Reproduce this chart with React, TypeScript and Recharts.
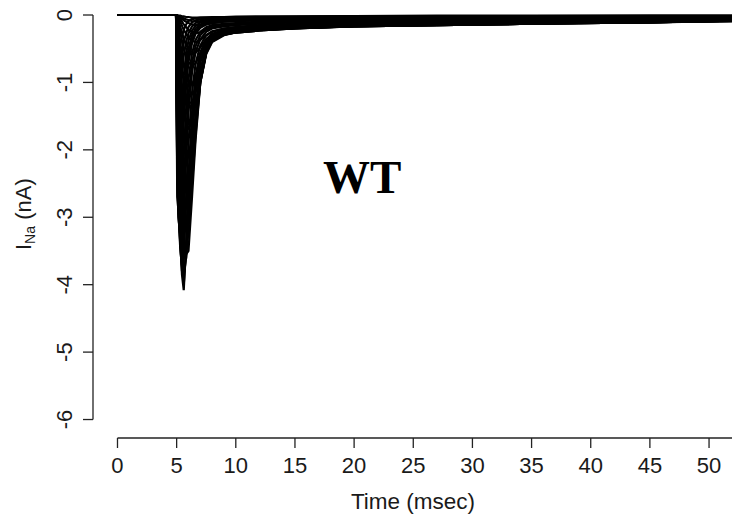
import { LineChart, Line, XAxis, YAxis, ReferenceLine } from "recharts"

// sample times (msec)
const TIME = [0, 4.95, 5.05, 5.15, 5.3, 5.45, 5.6, 5.8, 6.0, 6.3, 6.6, 7.0, 7.5, 8.0, 9.0, 10, 12, 15, 20, 27, 35, 45, 52]

// sodium current traces (nA), one per voltage step
const TRACES: number[][] = [
  [0, 0, -0.45, -0.55, -0.45, -0.32, -0.22, -0.14, -0.09, -0.06, -0.05, -0.04, -0.035, -0.03, -0.03, -0.025, -0.02, -0.02, -0.015, -0.01, -0.01, -0.01, -0.01],
  [0, 0, -0.8, -1.0, -0.8, -0.6, -0.4, -0.27, -0.18, -0.11, -0.08, -0.065, -0.05, -0.045, -0.04, -0.035, -0.03, -0.03, -0.02, -0.02, -0.015, -0.015, -0.015],
  [0, 0, -1.1, -1.4, -1.15, -0.85, -0.6, -0.4, -0.27, -0.17, -0.12, -0.09, -0.07, -0.06, -0.05, -0.05, -0.04, -0.04, -0.03, -0.03, -0.02, -0.02, -0.02],
  [0, 0, -1.45, -1.85, -1.65, -1.25, -0.9, -0.58, -0.38, -0.23, -0.16, -0.11, -0.085, -0.075, -0.065, -0.06, -0.05, -0.045, -0.04, -0.035, -0.03, -0.025, -0.025],
  [0, 0, -1.8, -2.3, -2.1, -1.6, -1.15, -0.75, -0.5, -0.3, -0.2, -0.14, -0.1, -0.09, -0.08, -0.07, -0.06, -0.05, -0.045, -0.04, -0.035, -0.03, -0.03],
  [0, 0, -2.3, -2.65, -2.45, -1.9, -1.4, -0.9, -0.6, -0.36, -0.24, -0.16, -0.12, -0.1, -0.09, -0.08, -0.07, -0.06, -0.05, -0.045, -0.04, -0.035, -0.03],
  [0, 0, -2.7, -2.9, -2.75, -2.2, -1.6, -1.05, -0.7, -0.42, -0.28, -0.19, -0.14, -0.12, -0.1, -0.09, -0.08, -0.07, -0.06, -0.05, -0.045, -0.04, -0.035],
  [0, 0, -2.4, -3.0, -3.25, -2.8, -2.1, -1.4, -0.95, -0.57, -0.37, -0.25, -0.18, -0.15, -0.13, -0.12, -0.1, -0.09, -0.08, -0.07, -0.06, -0.05, -0.045],
  [0, 0, -2.25, -2.95, -3.35, -3.3, -2.6, -1.8, -1.2, -0.7, -0.46, -0.3, -0.21, -0.17, -0.15, -0.13, -0.115, -0.1, -0.09, -0.08, -0.07, -0.06, -0.05],
  [0, 0, -2.1, -2.9, -3.45, -3.73, -3.1, -2.15, -1.45, -0.85, -0.55, -0.36, -0.25, -0.2, -0.17, -0.15, -0.13, -0.11, -0.1, -0.09, -0.08, -0.07, -0.06],
  [0, 0, -1.85, -2.7, -3.4, -3.8, -3.6, -2.8, -1.9, -1.15, -0.72, -0.45, -0.3, -0.24, -0.2, -0.18, -0.155, -0.135, -0.12, -0.11, -0.1, -0.085, -0.075],
  [0, 0, -1.6, -2.5, -3.3, -3.85, -4.08, -3.4, -2.4, -1.45, -0.9, -0.55, -0.36, -0.28, -0.23, -0.21, -0.18, -0.16, -0.14, -0.13, -0.12, -0.1, -0.09],
  [0, 0, -1.4, -2.25, -3.1, -3.7, -4.0, -3.5, -2.65, -1.65, -1.02, -0.62, -0.4, -0.3, -0.25, -0.22, -0.195, -0.175, -0.155, -0.14, -0.125, -0.105, -0.09],
  [0, 0, -1.2, -2.0, -2.9, -3.5, -3.85, -3.6, -2.9, -1.85, -1.15, -0.7, -0.45, -0.33, -0.27, -0.24, -0.21, -0.19, -0.17, -0.15, -0.13, -0.11, -0.09],
  [0, 0, -1.0, -1.75, -2.6, -3.25, -3.6, -3.6, -3.2, -2.3, -1.5, -0.85, -0.5, -0.35, -0.28, -0.25, -0.22, -0.195, -0.17, -0.15, -0.13, -0.11, -0.088],
  [0, 0, -0.8, -1.5, -2.3, -3.0, -3.3, -3.55, -3.5, -2.7, -1.85, -1.0, -0.55, -0.36, -0.29, -0.26, -0.23, -0.2, -0.165, -0.15, -0.13, -0.11, -0.085],
  [0, 0, -0.65, -1.25, -1.95, -2.6, -2.95, -3.2, -3.1, -2.5, -1.78, -1.0, -0.56, -0.38, -0.29, -0.26, -0.23, -0.2, -0.168, -0.15, -0.13, -0.11, -0.085],
  [0, 0, -0.5, -1.0, -1.6, -2.2, -2.6, -2.85, -2.75, -2.3, -1.7, -1.0, -0.58, -0.4, -0.3, -0.26, -0.23, -0.2, -0.17, -0.15, -0.13, -0.11, -0.085],
  [0, 0, -0.4, -0.8, -1.3, -1.8, -2.15, -2.4, -2.4, -2.1, -1.6, -0.98, -0.56, -0.39, -0.29, -0.255, -0.225, -0.195, -0.165, -0.145, -0.125, -0.105, -0.083],
  [0, 0, -0.3, -0.6, -1.0, -1.4, -1.75, -2.0, -2.05, -1.9, -1.5, -0.95, -0.55, -0.38, -0.28, -0.25, -0.22, -0.19, -0.16, -0.14, -0.12, -0.1, -0.08],
  [0, 0, -0.22, -0.45, -0.78, -1.1, -1.38, -1.6, -1.68, -1.6, -1.32, -0.88, -0.52, -0.36, -0.275, -0.245, -0.215, -0.185, -0.155, -0.135, -0.115, -0.095, -0.075],
  [0, 0, -0.15, -0.3, -0.55, -0.8, -1.0, -1.2, -1.3, -1.3, -1.15, -0.8, -0.5, -0.35, -0.27, -0.24, -0.21, -0.18, -0.15, -0.13, -0.11, -0.09, -0.07],
  [0, 0, -0.1, -0.2, -0.4, -0.58, -0.75, -0.9, -1.0, -1.02, -0.93, -0.69, -0.46, -0.33, -0.26, -0.23, -0.2, -0.17, -0.14, -0.12, -0.1, -0.08, -0.065],
  [0, 0, -0.05, -0.12, -0.25, -0.38, -0.5, -0.62, -0.7, -0.75, -0.72, -0.58, -0.42, -0.32, -0.25, -0.22, -0.19, -0.16, -0.13, -0.11, -0.09, -0.07, -0.06],
  [0, 0, -0.03, -0.08, -0.17, -0.26, -0.35, -0.44, -0.5, -0.55, -0.56, -0.48, -0.36, -0.28, -0.22, -0.2, -0.17, -0.145, -0.12, -0.1, -0.08, -0.06, -0.05],
  [0, 0, -0.02, -0.05, -0.1, -0.16, -0.22, -0.28, -0.33, -0.38, -0.4, -0.37, -0.3, -0.25, -0.2, -0.18, -0.15, -0.13, -0.11, -0.09, -0.07, -0.05, -0.04],
  [0, 0, -0.015, -0.035, -0.07, -0.1, -0.14, -0.18, -0.22, -0.25, -0.27, -0.26, -0.22, -0.18, -0.15, -0.13, -0.115, -0.1, -0.085, -0.07, -0.055, -0.04, -0.035],
  [0, 0, -0.01, -0.02, -0.04, -0.06, -0.08, -0.1, -0.12, -0.14, -0.15, -0.15, -0.14, -0.12, -0.1, -0.09, -0.08, -0.07, -0.06, -0.05, -0.04, -0.03, -0.03],
  [0, 0, 0, -0.015, -0.025, -0.04, -0.05, -0.065, -0.075, -0.09, -0.095, -0.1, -0.09, -0.08, -0.07, -0.06, -0.055, -0.05, -0.04, -0.035, -0.03, -0.02, -0.02],
  [0, 0, 0, -0.01, -0.01, -0.02, -0.02, -0.03, -0.03, -0.04, -0.04, -0.04, -0.04, -0.04, -0.035, -0.03, -0.03, -0.025, -0.02, -0.02, -0.015, -0.01, -0.01],
]

const X_TICKS = [0, 5, 10, 15, 20, 25, 30, 35, 40, 45, 50]
const Y_TICKS = [-6, -5, -4, -3, -2, -1, 0]

const X_DOMAIN: [number, number] = [-2.07, 51.94]
const Y_DOMAIN: [number, number] = [-6.274, 0.2225]

const FONT = "'Liberation Sans', Arial, sans-serif"
const AXIS = "#222"

const rows = TIME.map((t, i) => {
  const row: Record<string, number> = { t }
  TRACES.forEach((tr, k) => { row[`s${k}`] = tr[i] })
  return row
})

function XTick({ x, payload }: { x?: number; payload?: { value: number } }) {
  return (
    <text x={x} y={473} textAnchor="middle" fontFamily={FONT} fontSize={22} fill="#1a1a1a">
      {payload?.value}
    </text>
  )
}

function YTick({ y, payload }: { y?: number; payload?: { value: number } }) {
  return (
    <text x={0} y={0} transform={`translate(71.5,${y}) rotate(-90)`} textAnchor="middle" fontFamily={FONT} fontSize={22} fill="#1a1a1a">
      {payload?.value}
    </text>
  )
}

export default function App() {
  return (
    <div style={{ position: "absolute", left: 0, top: 0, width: 732, height: 525, background: "#fff" }}>
      <LineChart width={732} height={525} data={rows} margin={{ top: 0, right: 0, bottom: 0, left: 0 }}>
        <XAxis
          dataKey="t"
          type="number"
          domain={X_DOMAIN}
          allowDataOverflow
          ticks={X_TICKS}
          interval={0}
          height={87}
          axisLine={false}
          tickSize={10}
          tickLine={{ stroke: AXIS, strokeWidth: 1.3 }}
          tick={<XTick />}
        />
        <YAxis
          type="number"
          domain={Y_DOMAIN}
          allowDataOverflow
          ticks={Y_TICKS}
          interval={0}
          width={93}
          axisLine={false}
          tickSize={10}
          tickLine={{ stroke: AXIS, strokeWidth: 1.3 }}
          tick={<YTick />}
        />
        <ReferenceLine segment={[{ x: X_DOMAIN[0], y: 0 }, { x: X_DOMAIN[0], y: -6 }]} stroke={AXIS} strokeWidth={1.3} ifOverflow="visible" />
        <ReferenceLine segment={[{ x: 0, y: Y_DOMAIN[0] }, { x: X_DOMAIN[1], y: Y_DOMAIN[0] }]} stroke={AXIS} strokeWidth={1.3} ifOverflow="visible" />
        {TRACES.map((_, k) => (
          <Line
            key={k}
            dataKey={`s${k}`}
            type="linear"
            stroke="#000"
            strokeWidth={2.2}
            dot={false}
            activeDot={false}
            isAnimationActive={false}
          />
        ))}
      </LineChart>
      <svg width={732} height={525} style={{ position: "absolute", left: 0, top: 0, pointerEvents: "none" }}>
        <text x={323} y={193} fontFamily="'Liberation Serif', 'Times New Roman', serif" fontWeight="bold" fontSize={47} fill="#000">
          WT
        </text>
        <text x={413} y={509} textAnchor="middle" fontFamily={FONT} fontSize={22.5} fill="#1a1a1a">
          Time (msec)
        </text>
        <text x={0} y={0} transform="translate(31,250) rotate(-90)" fontFamily={FONT} fontSize={22} fill="#1a1a1a">
          I<tspan fontSize={14} dy={4}>Na</tspan><tspan dy={-4}> (nA)</tspan>
        </text>
      </svg>
    </div>
  )
}
